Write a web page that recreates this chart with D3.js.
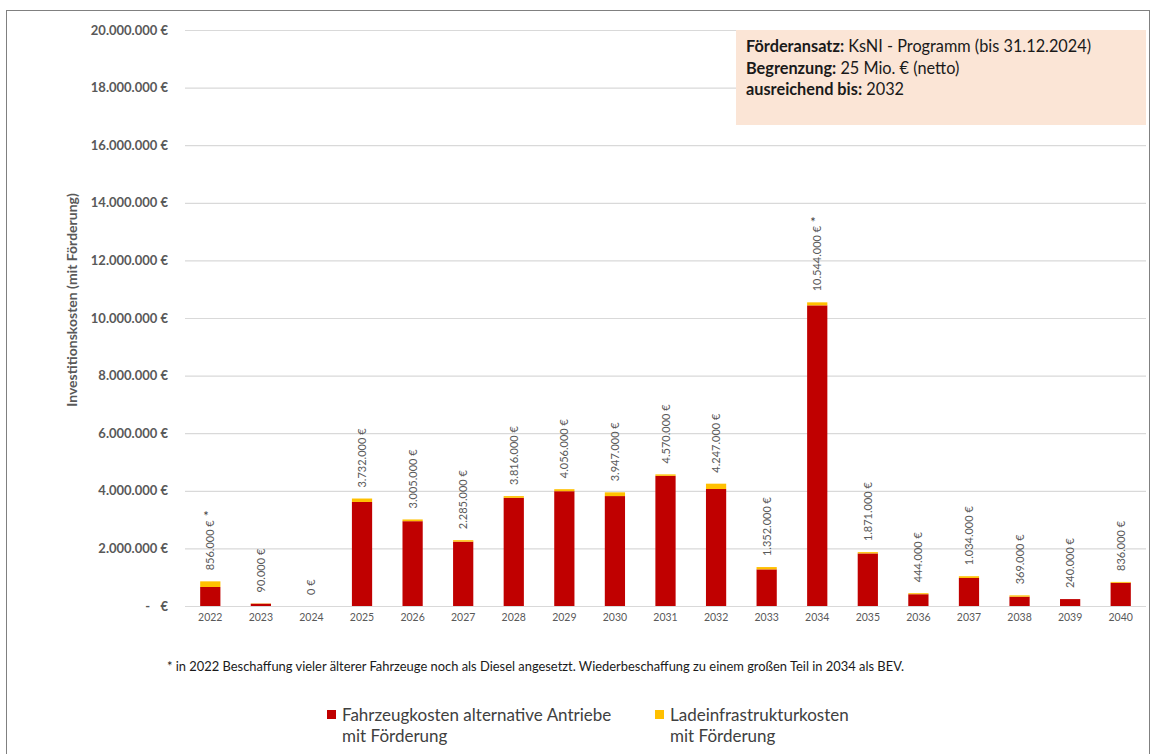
<!DOCTYPE html>
<html>
<head>
<meta charset="utf-8">
<script src="https://cdn.jsdelivr.net/npm/d3@7"></script>
<style>
  body { margin: 0; background: #fff; }
  text { font-family: Lato, "Open Sans", sans-serif; }
</style>
</head>
<body>
<div id="chart"></div>
<script>
const years = ["2022","2023","2024","2025","2026","2027","2028","2029","2030","2031",
               "2032","2033","2034","2035","2036","2037","2038","2039","2040"];
// Ladeinfrastruktur portion (yellow), estimated from bar segments
const ladeKosten = [196000, 10000, 0, 120000, 60000, 50000, 60000, 70000, 130000, 50000,
                    185000, 80000, 105000, 45000, 35000, 60000, 45000, 0, 30000];
// totals as labelled
const totals = [856000, 90000, 0, 3732000, 3005000, 2285000, 3816000, 4056000, 3947000, 4570000,
                4247000, 1352000, 10544000, 1871000, 444000, 1034000, 369000, 240000, 836000];
const fahrzeugKosten = totals.map((t, i) => t - ladeKosten[i]);
const starred = ["2022", "2034"];
const yTicks = [0, 2e6, 4e6, 6e6, 8e6, 10e6, 12e6, 14e6, 16e6, 18e6, 20e6];

const width = 1156, height = 754;
const margin = {top: 30, right: 10, bottom: 148, left: 185};

const svg = d3.select("#chart").append("svg")
    .attr("width", width)
    .attr("height", height);

// outer frame
svg.append("rect")
    .attr("x", 6.5).attr("y", 10.5)
    .attr("width", 1143).attr("height", 760)
    .style("fill", "none")
    .style("stroke", "#808080")
    .style("stroke-width", 1);

const x = d3.scaleBand()
    .domain(years)
    .range([margin.left, width - margin.right])
    .paddingInner(0.6)
    .paddingOuter(0.3);

const y = d3.scaleLinear()
    .domain([0, 20e6])
    .range([606, 30]);

const de = d3.formatLocale({decimal: ",", thousands: ".", grouping: [3], currency: ["", " €"]});
const fmt = de.format(",.0f");

// gridlines
svg.append("g")
    .attr("class", "grid")
    .attr("transform", `translate(${margin.left},0)`)
    .call(d3.axisLeft(y).tickValues(yTicks).tickSize(-(width - margin.right - margin.left)).tickFormat(""))
    .call(g => g.select(".domain").remove())
    .call(g => g.selectAll("line").style("stroke", "#d9d9d9").style("stroke-width", 1.2));

// y axis labels
const yAxis = svg.append("g")
    .attr("transform", `translate(168,0)`)
    .call(d3.axisLeft(y).tickValues(yTicks).tickSize(0).tickPadding(0)
        .tickFormat(d => d === 0 ? "€" : fmt(d) + " €"))
    .call(g => g.select(".domain").remove());
yAxis.selectAll("text")
    .style("font-family", "Lato, sans-serif")
    .style("font-size", "13px")
    .style("font-weight", "bold")
    .style("fill", "#595959");
yAxis.selectAll(".tick").filter(d => d === 0)
    .append("text")
    .attr("x", -18).attr("dy", "0.32em")
    .style("font-size", "13px").style("font-weight", "bold").style("fill", "#595959")
    .style("text-anchor", "end")
    .text("-");

// y axis title
svg.append("text")
    .attr("transform", `translate(77,300) rotate(-90)`)
    .style("text-anchor", "middle")
    .style("font-size", "14px")
    .style("font-weight", "bold")
    .style("fill", "#595959")
    .text("Investitionskosten (mit Förderung)");

// stacked bars
const rows = years.map((yr, i) => ({year: yr, fahrzeug: fahrzeugKosten[i], lade: ladeKosten[i], total: totals[i]}));
const stack = d3.stack().keys(["fahrzeug", "lade"])(rows);
const colors = {fahrzeug: "#c00000", lade: "#ffc000"};

svg.append("g")
  .selectAll("g")
    .data(stack)
  .enter().append("g")
    .style("fill", d => colors[d.key])
  .selectAll("rect")
    .data(d => d)
  .enter().append("rect")
    .attr("x", d => x(d.data.year))
    .attr("width", x.bandwidth())
    .attr("y", d => y(d[1]))
    .attr("height", d => y(d[0]) - y(d[1]));

// value labels (rotated)
const labels = svg.append("g")
  .selectAll("text")
    .data(rows)
  .enter().append("text")
    .attr("transform", d => `translate(${x(d.year) + x.bandwidth() / 2 + 4},${y(d.total) - 11}) rotate(-90)`)
    .style("font-size", "11px")
    .style("fill", "#595959")
    .text(d => fmt(d.total) + " €");

// asterisks, placed just beyond the end of the rotated label
labels.filter(d => starred.includes(d.year)).each(function(d) {
  const len = this.getComputedTextLength();
  svg.append("text")
      .attr("x", x(d.year) + x.bandwidth() / 2 - 7)
      .attr("y", y(d.total) - 11 - len + 1)
      .style("font-size", "13px")
      .style("fill", "#404040")
      .text("*");
});

// x axis labels
svg.append("g")
    .attr("transform", `translate(0,612)`)
    .call(d3.axisBottom(x).tickSize(0).tickPadding(2))
    .call(g => g.select(".domain").remove())
    .call(g => g.selectAll("text")
        .style("font-family", "Lato, sans-serif")
        .style("font-size", "10.5px")
        .style("fill", "#595959"));

// footnote
svg.append("text")
    .attr("x", 167).attr("y", 671)
    .style("font-size", "12.9px")
    .style("fill", "#1a1a1a")
    .text("* in 2022 Beschaffung vieler älterer Fahrzeuge noch als Diesel angesetzt. Wiederbeschaffung zu einem großen Teil in 2034 als BEV.");

// legend
const legendItems = [
  {key: "fahrzeug", x: 327, lines: ["Fahrzeugkosten alternative Antriebe", "mit Förderung"]},
  {key: "lade", x: 655, lines: ["Ladeinfrastrukturkosten", "mit Förderung"]}
];
const lg = svg.append("g").selectAll("g").data(legendItems).enter().append("g");
lg.append("rect")
    .attr("x", d => d.x).attr("y", 710)
    .attr("width", 9).attr("height", 9)
    .style("fill", d => colors[d.key]);
lg.append("text")
    .attr("x", d => d.x + 15).attr("y", 721)
    .style("font-size", "17px")
    .style("fill", "#404040")
    .selectAll("tspan")
    .data(d => d.lines)
  .enter().append("tspan")
    .attr("x", function() { return d3.select(this.parentNode).attr("x"); })
    .attr("dy", (d, i) => i === 0 ? 0 : 21)
    .text(d => d);

// info box
svg.append("rect")
    .attr("x", 736).attr("y", 30)
    .attr("width", 410).attr("height", 95)
    .style("fill", "#fbe5d6");
const infoLines = [
  ["Förderansatz:", " KsNI - Programm (bis 31.12.2024)"],
  ["Begrenzung:", " 25 Mio. € (netto)"],
  ["ausreichend bis:", " 2032"]
];
const info = svg.append("g").selectAll("text").data(infoLines).enter().append("text")
    .attr("x", 746)
    .attr("y", (d, i) => 52 + i * 21.5)
    .style("font-size", "16.3px")
    .style("fill", "#1a1a1a");
info.append("tspan").style("font-weight", "bold").text(d => d[0]);
info.append("tspan").text(d => d[1]);
</script>
</body>
</html>
